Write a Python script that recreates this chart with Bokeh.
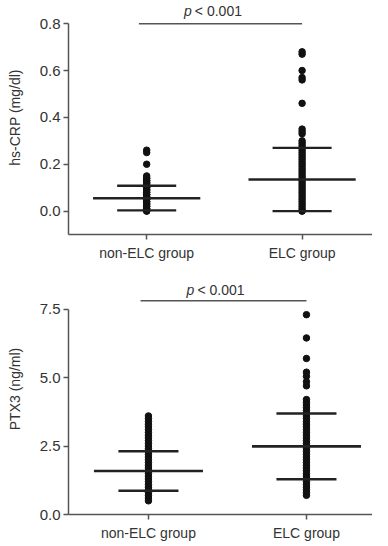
from bokeh.plotting import figure
from bokeh.layouts import column
from bokeh.models import FixedTicker, Range1d, PrintfTickFormatter
from bokeh.embed import file_html
from bokeh.resources import INLINE
from bokeh.core.properties import value

groups = ["non-ELC group", "ELC group"]
group_pos = [0, 1]

# hs-CRP (mg/dl)
crp_non = [0.26, 0.25, 0.20, 0.15, 0.14, 0.14, 0.13, 0.13, 0.12, 0.12, 0.11, 0.11,
           0.10, 0.10, 0.09, 0.09, 0.08, 0.08, 0.07, 0.07, 0.06, 0.06, 0.05, 0.05,
           0.04, 0.04, 0.03, 0.03, 0.02, 0.02, 0.01, 0.01, 0.00, 0.00]
crp_elc = [0.68, 0.67, 0.60, 0.57, 0.56, 0.46, 0.35, 0.34, 0.33, 0.30, 0.29, 0.28,
           0.27, 0.26, 0.25, 0.24, 0.23, 0.22, 0.21, 0.20, 0.19, 0.18, 0.17, 0.16,
           0.15, 0.14, 0.13, 0.12, 0.11, 0.10, 0.09, 0.08, 0.07, 0.06, 0.05, 0.04,
           0.03, 0.02, 0.01, 0.00, 0.00]
crp_mean = [0.055, 0.135]
crp_sd_hi = [0.108, 0.270]
crp_sd_lo = [0.003, 0.000]
crp_ticks = [0.0, 0.2, 0.4, 0.6, 0.8]

# PTX3 (ng/ml)
ptx_non = [3.6, 3.5, 3.4, 3.3, 3.2, 3.1, 3.0, 2.9, 2.8, 2.7, 2.6, 2.5, 2.4, 2.3,
           2.2, 2.1, 2.0, 1.9, 1.8, 1.7, 1.6, 1.5, 1.4, 1.3, 1.2, 1.1, 1.0, 0.9,
           0.8, 0.7, 0.6, 0.5]
ptx_elc = [7.3, 6.45, 5.7, 5.2, 5.05, 4.85, 4.7, 4.2, 4.1, 4.0, 3.9, 3.8, 3.7,
           3.6, 3.5, 3.4, 3.3, 3.2, 3.1, 3.0, 2.9, 2.8, 2.7, 2.6, 2.5, 2.4, 2.3,
           2.2, 2.1, 2.0, 1.9, 1.8, 1.7, 1.6, 1.5, 1.4, 1.3, 1.2, 1.1, 1.0, 0.9,
           0.8, 0.7]
ptx_mean = [1.59, 2.49]
ptx_sd_hi = [2.31, 3.69]
ptx_sd_lo = [0.87, 1.29]
ptx_ticks = [0.0, 2.5, 5.0, 7.5]

sig_label = "< 0.001"

FONT = "Liberation Sans"
TXT = "#333333"
AX = "#555555"


def panel(title, non, elc, mean, hi, lo, ticks, yr, ybounds, sig_y, txt_y,
          height, left, xr, tickfmt):
    p = figure(width=372, height=height, output_backend="svg", toolbar_location=None,
               x_range=Range1d(*xr), y_range=Range1d(*yr),
               min_border_left=left, min_border_right=0, min_border_top=0,
               min_border_bottom=10)
    p.outline_line_color = None
    p.grid.visible = False
    p.background_fill_color = "white"
    p.border_fill_color = "white"

    # points
    p.scatter([group_pos[0]] * len(non), non, size=6.5, color="#111111")
    p.scatter([group_pos[1]] * len(elc), elc, size=6.5, color="#111111")

    # mean and SD bars
    p.segment([g - 0.345 for g in group_pos], mean, [g + 0.345 for g in group_pos], mean,
              line_width=2.6, color="#222222")
    p.segment([g - 0.19 for g in group_pos], hi, [g + 0.19 for g in group_pos], hi,
              line_width=2.4, color="#222222")
    p.segment([g - 0.19 for g in group_pos], lo, [g + 0.19 for g in group_pos], lo,
              line_width=2.4, color="#222222")

    # significance bar
    p.segment([-0.05], [sig_y], [group_pos[1]], [sig_y], line_width=1.5, color=AX)
    p.text([0.29], [txt_y], text=["p"], text_align="right", text_baseline="middle",
           text_font=value(FONT), text_font_style="italic", text_font_size="14px",
           text_color=TXT)
    p.text([0.31], [txt_y], text=[sig_label], text_align="left", text_baseline="middle",
           text_font=value(FONT), text_font_size="14px", text_color=TXT)

    # axes
    p.xaxis.ticker = FixedTicker(ticks=group_pos)
    p.xaxis.major_label_overrides = {0: groups[0], 1: groups[1]}
    p.yaxis.ticker = FixedTicker(ticks=ticks)
    p.yaxis.formatter = PrintfTickFormatter(format=tickfmt)
    p.yaxis.bounds = ybounds
    p.yaxis.axis_label = title
    for ax in (p.xaxis[0], p.yaxis[0]):
        ax.axis_line_color = AX
        ax.axis_line_width = 1.5
        ax.major_tick_line_color = AX
        ax.major_tick_line_width = 1.5
        ax.major_tick_out = 5
        ax.major_tick_in = 0
        ax.minor_tick_line_color = None
        ax.major_label_text_font = FONT
        ax.major_label_text_color = TXT
        ax.axis_label_text_font = FONT
        ax.axis_label_text_color = TXT
        ax.axis_label_text_font_style = "normal"
        ax.axis_label_text_font_size = "14px"
    p.xaxis.major_label_text_font_size = "14px"
    p.yaxis.major_label_text_font_size = "15px"
    p.xaxis.major_label_standoff = 5
    p.yaxis.major_label_standoff = 3
    p.yaxis.axis_label_standoff = 14
    return p


p1 = panel("hs-CRP (mg/dl)", crp_non, crp_elc, crp_mean, crp_sd_hi, crp_sd_lo, crp_ticks,
           (-0.1, 0.899), (-0.1, 0.8), 0.8, 0.856, 263, 61, (-0.503, 1.453), "%.1f")
p2 = panel("PTX3 (ng/ml)", ptx_non, ptx_elc, ptx_mean, ptx_sd_hi, ptx_sd_lo, ptx_ticks,
           (0.0, 9.17), (0.0, 7.5), 7.81, 8.2, 280, 68, (-0.506, 1.418), "%.1f")

layout = column(p1, p2, spacing=0)
open("out.html", "w").write(file_html(layout, INLINE))
